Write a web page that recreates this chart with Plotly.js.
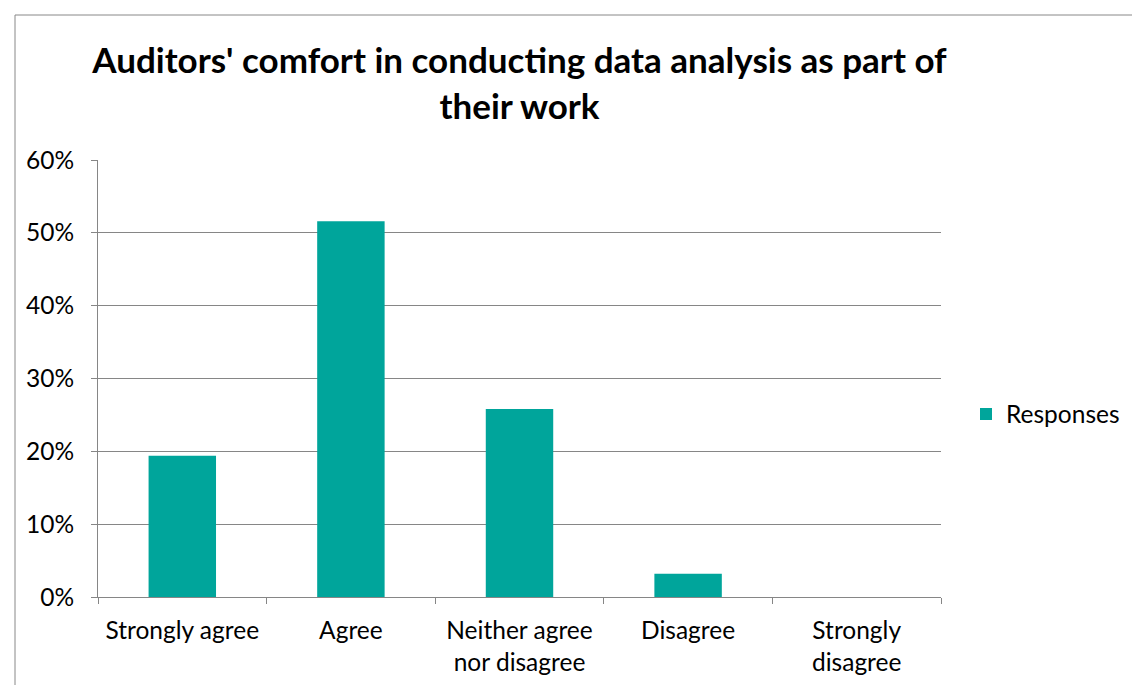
<!DOCTYPE html>
<html><head><meta charset="utf-8">
<script src="https://cdn.plot.ly/plotly-3.0.1.min.js"></script>
<style>html,body{margin:0;padding:0;background:#fff}#chart{width:1132px;height:685px}</style>
</head><body><div id="chart"></div>
<script>
const categories = ["Strongly agree", "Agree", "Neither agree<br>nor disagree", "Disagree", "Strongly<br>disagree"];
const responses = [0.194, 0.516, 0.258, 0.032, 0];
const yTickVals = [0, 0.1, 0.2, 0.3, 0.4, 0.5, 0.6];
const yTickText = ["0%", "10%", "20%", "30%", "40%", "50%", "60%"];
const seriesName = "Responses";

const FONT = "Lato, Open Sans, sans-serif";
const TICK = 24.5;
const trace = {
  type: "bar", x: categories, y: responses, name: seriesName,
  marker: {color: "#00A59B"}, showlegend: true, hoverinfo: "x+y"
};
const layout = {
  width: 1132, height: 685,
  margin: {l: 98, r: 191, t: 160, b: 88, pad: 0},
  paper_bgcolor: "#fff", plot_bgcolor: "#fff",
  font: {family: FONT, size: TICK, color: "#000"},
  title: {text: "<b>Auditors' comfort in conducting data analysis as part of<br>their work</b>",
          font: {family: FONT, size: 35, color: "#000"}, x: 0.5, xref: "paper", xanchor: "center",
          y: 0.893, yanchor: "middle"},
  bargap: 0.6,
  xaxis: {type: "category", tickson: "boundaries", ticks: "outside", ticklen: 6, tickcolor: "#868686",
          showline: true, linecolor: "#868686", linewidth: 1, showgrid: false, ticklabelstandoff: 12,
          automargin: false,
          tickfont: {family: FONT, size: TICK, color: "#000"}},
  yaxis: {range: [0, 0.6], tickvals: yTickVals, ticktext: yTickText, ticks: "outside", ticklen: 6,
          tickcolor: "#868686", showline: true, linecolor: "#868686", linewidth: 1, ticklabelstandoff: 12,
          showgrid: true, gridcolor: "#868686", gridwidth: 1, zeroline: false, automargin: false,
          tickfont: {family: FONT, size: TICK, color: "#000"}},
  legend: {xref: "container", yref: "container", x: 966/1132, xanchor: "left", y: 1 - 414/685, yanchor: "middle",
           font: {family: FONT, size: TICK, color: "#000"}, bgcolor: "rgba(0,0,0,0)", itemwidth: 30},
  shapes: [{type: "rect", xref: "paper", yref: "paper", x0: (15-98)/843, x1: (1160-98)/843,
            y0: (597-720)/437, y1: (597-15)/437, line: {color: "#888", width: 1}, fillcolor: "rgba(0,0,0,0)", layer: "below"}]
};
Plotly.newPlot("chart", [trace], layout, {displayModeBar: false, staticPlot: true});
</script></body></html>
